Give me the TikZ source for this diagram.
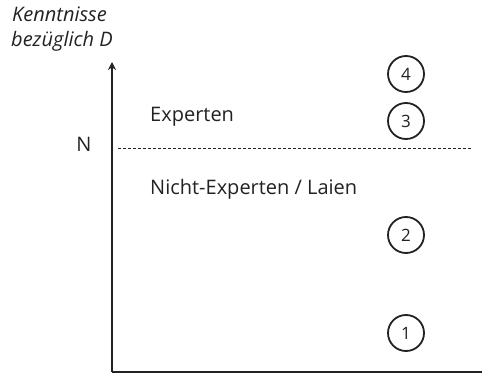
\documentclass[tikz,border=0pt]{standalone}
\usepackage{fontspec}
\setmainfont{Open Sans}
\usetikzlibrary{arrows.meta}
\definecolor{ink}{HTML}{222222}
\begin{document}
\begin{tikzpicture}[x=1pt,y=-1pt,
  lbl/.style={text=ink,font=\fontsize{20}{22}\selectfont,inner sep=0pt},
  ital/.style={text=ink,font=\fontsize{20}{22}\selectfont\itshape,inner sep=0pt,anchor=base west},
  num/.style={circle,draw=ink,line width=1.8pt,minimum size=36pt,inner sep=0pt,text=ink,font=\fontsize{17}{19}\selectfont},
  axis/.style={draw=ink,line width=1.6pt}]
\useasboundingbox (0,0) rectangle (492,374);
\node[ital] (k1) at (12,22) {Kenntnisse};
\node[ital] (k2) at (11,47) {bezüglich D};
\coordinate (o) at (112,372);
\coordinate (top) at (112,62);
\coordinate (xe) at (482,372);
\draw[axis,-{Stealth[length=8pt,width=8pt]}] (o) -- (top);
\draw[axis] (o) -- (xe);
\coordinate (d1) at (118,148);
\coordinate (d2) at (472,148);
\draw[ink,dashed,dash pattern=on 3pt off 2pt,line width=0.8pt] (d1) -- (d2);
\node[lbl,anchor=base] (n) at (84,152) {N};
\node[lbl,anchor=base west] (exp) at (150,122) {Experten};
\node[lbl,anchor=base west] (lai) at (150,194) {Nicht-Experten / Laien};
\node[num] (c4) at (406,74) {4};
\node[num] (c3) at (406,121) {3};
\node[num] (c2) at (406,235) {2};
\node[num] (c1) at (406,333) {1};
\end{tikzpicture}
\end{document}
